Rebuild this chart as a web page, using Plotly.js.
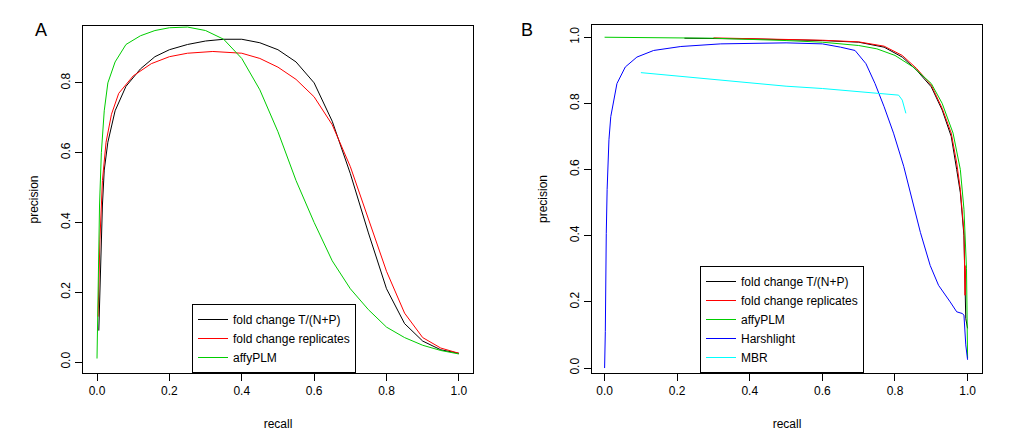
<!DOCTYPE html>
<html><head><meta charset="utf-8">
<script src="https://cdn.plot.ly/plotly-3.0.1.min.js"></script>
<style>body{margin:0;background:#fff}#plot{width:1019px;height:437px}</style>
</head><body><div id="plot"></div>
<script>
// panel A
const aFoldX = [0.005,0.01,0.015,0.02,0.03,0.05,0.08,0.12,0.16,0.2,0.25,0.3,0.35,0.4,0.45,0.5,0.55,0.6,0.65,0.7,0.75,0.8,0.85,0.9,0.95,1.0];
const aFoldY = [0.09,0.3,0.45,0.55,0.63,0.72,0.79,0.84,0.875,0.895,0.91,0.92,0.925,0.925,0.915,0.895,0.86,0.8,0.69,0.54,0.37,0.21,0.11,0.06,0.035,0.025];
const aRepX = [0.003,0.008,0.015,0.025,0.04,0.06,0.1,0.15,0.2,0.25,0.32,0.4,0.45,0.5,0.55,0.6,0.65,0.7,0.75,0.8,0.85,0.9,0.95,1.0];
const aRepY = [0.13,0.35,0.52,0.63,0.71,0.77,0.82,0.855,0.875,0.885,0.89,0.885,0.87,0.845,0.81,0.76,0.68,0.56,0.41,0.26,0.14,0.07,0.04,0.025];
const aPlmX = [0,0.003,0.007,0.012,0.02,0.03,0.05,0.08,0.12,0.16,0.2,0.25,0.3,0.35,0.4,0.45,0.5,0.55,0.6,0.65,0.7,0.75,0.8,0.85,0.9,0.95,1.0];
const aPlmY = [0.01,0.25,0.45,0.6,0.72,0.8,0.86,0.91,0.935,0.95,0.958,0.96,0.95,0.925,0.87,0.78,0.66,0.52,0.4,0.29,0.21,0.15,0.1,0.07,0.048,0.033,0.023];
// panel B
const bFoldX = [0.22,0.4,0.6,0.7,0.77,0.82,0.86,0.9,0.93,0.955,0.97,0.98,0.99,0.995,1.0];
const bFoldY = [0.997,0.995,0.99,0.985,0.97,0.94,0.9,0.85,0.78,0.7,0.6,0.53,0.4,0.15,0.12];
const bRepX = [0.3,0.4,0.6,0.7,0.77,0.82,0.86,0.9,0.93,0.955,0.97,0.98,0.99,0.993,0.995];
const bRepY = [0.998,0.996,0.991,0.986,0.973,0.945,0.905,0.855,0.785,0.71,0.62,0.54,0.41,0.22,0.31];
const bPlmX = [0,0.3,0.5,0.6,0.7,0.75,0.8,0.85,0.9,0.93,0.96,0.98,0.99,0.997,1.0];
const bPlmY = [1.0,0.997,0.99,0.985,0.975,0.965,0.945,0.91,0.86,0.8,0.71,0.6,0.48,0.3,0.03];
const bHarX = [0,0.002,0.0046,0.007,0.012,0.017,0.034,0.057,0.089,0.135,0.21,0.32,0.5,0.6,0.65,0.69,0.72,0.745,0.77,0.796,0.824,0.85,0.87,0.897,0.92,0.952,0.97,0.985,0.99,0.995,1.0];
const bHarY = [0,0.11,0.407,0.54,0.69,0.76,0.86,0.91,0.94,0.96,0.972,0.98,0.983,0.98,0.97,0.96,0.92,0.86,0.79,0.71,0.61,0.5,0.41,0.31,0.25,0.2,0.17,0.165,0.16,0.07,0.025];
const bMbrX = [0.1,0.2,0.3,0.4,0.5,0.6,0.7,0.78,0.81,0.82,0.83];
const bMbrY = [0.893,0.883,0.873,0.862,0.852,0.845,0.835,0.828,0.825,0.81,0.77];

const names = ['fold change T/(N+P)', 'fold change replicates', 'affyPLM', 'Harshlight', 'MBR'];
const cols = ['#000000', '#ff0000', '#00cd00', '#0000ff', '#00ffff'];

function tr(x, y, i, panel) {
  return { x: x, y: y, type: 'scatter', mode: 'lines', name: names[i],
    line: { color: cols[i], width: 1 },
    xaxis: panel === 'A' ? 'x' : 'x2', yaxis: panel === 'A' ? 'y' : 'y2',
    legend: panel === 'A' ? 'legend' : 'legend2' };
}
const traces = [
  tr(aFoldX, aFoldY, 0, 'A'), tr(aRepX, aRepY, 1, 'A'), tr(aPlmX, aPlmY, 2, 'A'),
  tr(bFoldX, bFoldY, 0, 'B'), tr(bRepX, bRepY, 1, 'B'), tr(bPlmX, bPlmY, 2, 'B'),
  tr(bHarX, bHarY, 3, 'B'), tr(bMbrX, bMbrY, 4, 'B')
];

const W = 1019, H = 437;
const f = { family: 'Liberation Sans, Arial, sans-serif', size: 12, color: '#000' };
const ax = (domain, range, dtick, title, yax) => ({
  domain: domain, range: range, tick0: 0, dtick: dtick, showgrid: false, zeroline: false,
  showline: true, mirror: true, linecolor: '#000', linewidth: 1,
  ticks: 'outside', ticklen: 7, tickcolor: '#000', tickformat: '.1f', tickfont: f,
  tickangle: yax ? -90 : 0, title: { text: title, font: f, standoff: yax ? 18 : 22 }
});
const legendStyle = (x, y) => ({ x: x, y: y, xanchor: 'left', yanchor: 'bottom',
  bgcolor: '#fff', bordercolor: '#000', borderwidth: 1, font: f, tracegroupgap: 0 });

const layout = {
  width: W, height: H, margin: { l: 0, r: 0, t: 0, b: 0 },
  paper_bgcolor: '#fff', plot_bgcolor: '#fff', font: f,
  xaxis: ax([83 / W, 473 / W], [-0.0387, 1.039], 0.2, 'recall', false),
  yaxis: ax([1 - 373 / H, 1 - 26 / H], [-0.0315, 0.963], 0.2, 'precision', true),
  xaxis2: Object.assign(ax([592 / W, 982 / W], [-0.0347, 1.0397], 0.2, 'recall', false), { anchor: 'y2' }),
  yaxis2: Object.assign(ax([1 - 373 / H, 1 - 25 / H], [-0.015, 1.037], 0.2, 'precision', true), { anchor: 'x2' }),
  legend: legendStyle(192 / W, 1 - 373 / H),
  legend2: legendStyle(700 / W, 1 - 373 / H),
  annotations: [
    { text: 'A', x: 33 / W, y: 1 - 18 / H, xref: 'paper', yref: 'paper', showarrow: false, font: { family: f.family, size: 18, color: '#000' } },
    { text: 'B', x: 527 / W, y: 1 - 18 / H, xref: 'paper', yref: 'paper', showarrow: false, font: { family: f.family, size: 18, color: '#000' } }
  ]
};
Plotly.newPlot('plot', traces, layout, { displayModeBar: false, staticPlot: true });
</script></body></html>
